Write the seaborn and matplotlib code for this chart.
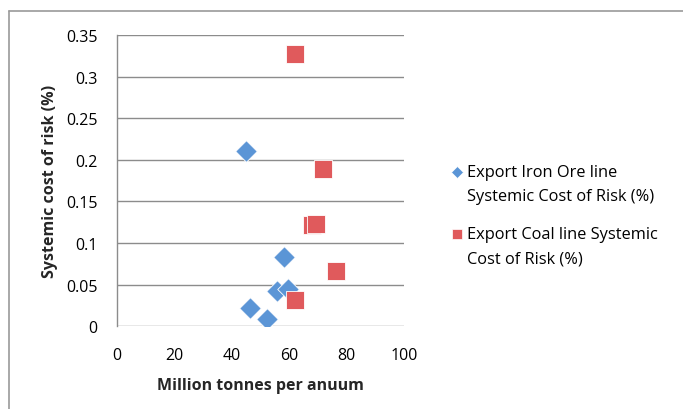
import matplotlib
matplotlib.use("Agg")
import matplotlib.pyplot as plt
import matplotlib.lines as mlines
import pandas as pd
import seaborn as sns

iron_x = [45.0, 58.1, 55.9, 59.7, 46.3, 52.2]
iron_y = [0.211, 0.083, 0.042, 0.045, 0.022, 0.008]
coal_x = [62.1, 71.8, 68.0, 69.4, 76.4, 62.1]
coal_y = [0.328, 0.189, 0.122, 0.123, 0.066, 0.031]
series_names = ["Export Iron Ore line\nSystemic Cost of Risk (%)",
                "Export Coal line Systemic\nCost of Risk (%)"]
x_ticks = [0, 20, 40, 60, 80, 100]
y_ticks = [0, 0.05, 0.1, 0.15, 0.2, 0.25, 0.3, 0.35]
y_tick_labels = ["0", "0.05", "0.1", "0.15", "0.2", "0.25", "0.3", "0.35"]

df = pd.DataFrame({
    "x": iron_x + coal_x,
    "y": iron_y + coal_y,
    "series": [series_names[0]] * len(iron_x) + [series_names[1]] * len(coal_x),
})

sns.set_theme(style="white")
plt.rcParams["font.family"] = ["Open Sans", "DejaVu Sans"]

W, H = 683, 410
fig = plt.figure(figsize=(W / 100, H / 100), dpi=100)
ax = fig.add_axes([0.171, 0.2024, 0.4205, 0.7088])

# outer chart-area frame (top and left edges)
frame_kw = dict(transform=fig.transFigure, color="#9a9a9a", linewidth=1.2)
fig.lines.append(mlines.Line2D([0.013, 1.0], [0.971, 0.971], **frame_kw))
fig.lines.append(mlines.Line2D([0.013, 0.013], [0.0, 0.971], **frame_kw))

palette = {series_names[0]: "#5b95d6", series_names[1]: "#e05a5c"}
markers = {series_names[0]: "D", series_names[1]: "s"}
sizes = {series_names[0]: 120, series_names[1]: 180}

for name in series_names:
    sub = df[df["series"] == name]
    sns.scatterplot(data=sub, x="x", y="y", ax=ax, color=palette[name],
                    marker=markers[name], s=sizes[name], edgecolor="#ffffff",
                    linewidth=0.6, legend=False, zorder=3)

ax.set_xlim(0, 100)
ax.set_ylim(0, 0.35)
ax.set_xticks(x_ticks)
ax.set_xticklabels([str(t) for t in x_ticks])
ax.set_yticks(y_ticks)
ax.set_yticklabels(y_tick_labels)
ax.grid(axis="y", color="#8c8c8c", linewidth=1.0)
ax.grid(axis="x", visible=False)
ax.set_axisbelow(True)
for side in ["top", "right", "bottom"]:
    ax.spines[side].set_visible(False)
ax.spines["left"].set_color("#8c8c8c")
ax.spines["left"].set_linewidth(1.0)
ax.tick_params(axis="both", length=0, labelsize=11.5, colors="#000000")
ax.tick_params(axis="x", pad=15)
ax.tick_params(axis="y", pad=14)

ax.set_xlabel("Million tonnes per anuum", fontsize=11.5, fontweight="bold", labelpad=10)
ax.set_ylabel("Systemic cost of risk (%)", fontsize=11.5, fontweight="bold", labelpad=6)

# legend: marker beside the first line of each two-line label
legend_top_px = [173, 235]
line_gap_px = 24
for name, top in zip(series_names, legend_top_px):
    fig.lines.append(mlines.Line2D([457 / W], [1 - top / H], transform=fig.transFigure,
                                   marker=markers[name], markersize=7.5 if markers[name] == "s" else 6.5,
                                   color=palette[name], markeredgecolor="#ffffff",
                                   markeredgewidth=0.5, linestyle="none"))
    for i, line in enumerate(name.split("\n")):
        fig.text(467 / W, 1 - (top + i * line_gap_px) / H, line, fontsize=11.8,
                 color="#000000", ha="left", va="center")

fig.savefig("out.png", dpi=100)
